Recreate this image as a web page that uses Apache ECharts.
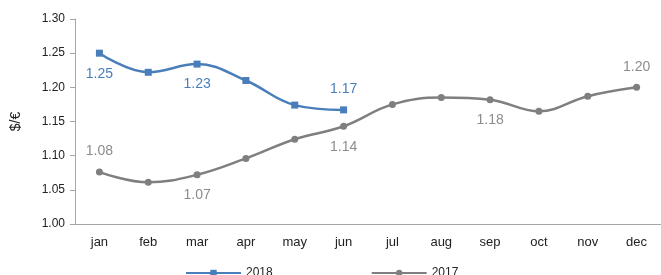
<!DOCTYPE html>
<html>
<head>
<meta charset="utf-8">
<script src="https://cdn.jsdelivr.net/npm/echarts@6/dist/echarts.min.js"></script>
<style>
  html, body { margin: 0; padding: 0; background: #fff; }
  #chart { width: 661px; height: 275px; }
</style>
</head>
<body>
<div id="chart"></div>
<script>
// month categories
var months = ['jan', 'feb', 'mar', 'apr', 'may', 'jun', 'jul', 'aug', 'sep', 'oct', 'nov', 'dec']
// $/€ monthly averages
var rate2018 = [1.25, 1.222, 1.234, 1.21, 1.174, 1.167]
var rate2017 = [1.076, 1.061, 1.072, 1.096, 1.124, 1.143, 1.175, 1.185, 1.182, 1.165, 1.187, 1.20]

// which points carry a value label, and where
var labels2018 = { 0: 'bottom', 2: 'bottom', 5: 'top' }
var labels2017 = { 0: 'top', 2: 'bottom', 5: 'bottom', 8: 'bottom', 11: 'top' }

var blue = '#4a7ebb'
var grey = '#7f7f7f'
var font = 'Liberation Sans'

function withLabels(values, picks, color) {
    return values.map(function (v, i) {
        if (!picks[i]) return v
        return {
            value: v,
            label: {
                show: true,
                position: picks[i],
                distance: 10,
                color: color,
                fontSize: 14,
                fontFamily: font,
                formatter: function (p) { return p.value.toFixed(2) }
            }
        }
    })
}

var chart = echarts.init(document.getElementById('chart'))
chart.setOption({
    animation: false,
    grid: { left: 75, right: 0, top: 19, bottom: 51 },
    legend: {
        left: 180,
        top: 262,
        itemWidth: 55,
        itemHeight: 8,
        itemGap: 98,
        textStyle: { fontSize: 12, fontFamily: font, color: '#222' },
        data: ['2018', '2017']
    },
    xAxis: {
        type: 'category',
        data: months,
        axisLine: { lineStyle: { color: '#a6a6a6' } },
        axisTick: { length: 5, lineStyle: { color: '#a6a6a6' } },
        axisLabel: { color: '#222', fontSize: 13, fontFamily: font, margin: 12 }
    },
    yAxis: {
        type: 'value',
        min: 1.0,
        max: 1.3,
        interval: 0.05,
        name: '$/€',
        nameLocation: 'middle',
        nameGap: 52,
        nameTextStyle: { fontSize: 14, fontFamily: font, color: '#222' },
        splitLine: { show: false },
        axisLine: { show: true, lineStyle: { color: '#a6a6a6' } },
        axisTick: { show: true, length: 5, lineStyle: { color: '#a6a6a6' } },
        axisLabel: {
            color: '#222', fontSize: 12, fontFamily: font, margin: 10,
            formatter: function (v) { return v.toFixed(2) }
        }
    },
    series: [
        {
            name: '2018',
            type: 'line',
            smooth: 0.4,
            symbol: 'rect',
            symbolSize: 7,
            itemStyle: { color: blue },
            lineStyle: { color: blue, width: 2.5 },
            data: withLabels(rate2018, labels2018, blue)
        },
        {
            name: '2017',
            type: 'line',
            smooth: 0.4,
            symbol: 'circle',
            symbolSize: 7,
            itemStyle: { color: grey },
            lineStyle: { color: grey, width: 2.5 },
            data: withLabels(rate2017, labels2017, '#8c8c8c')
        }
    ]
})
</script>
</body>
</html>
